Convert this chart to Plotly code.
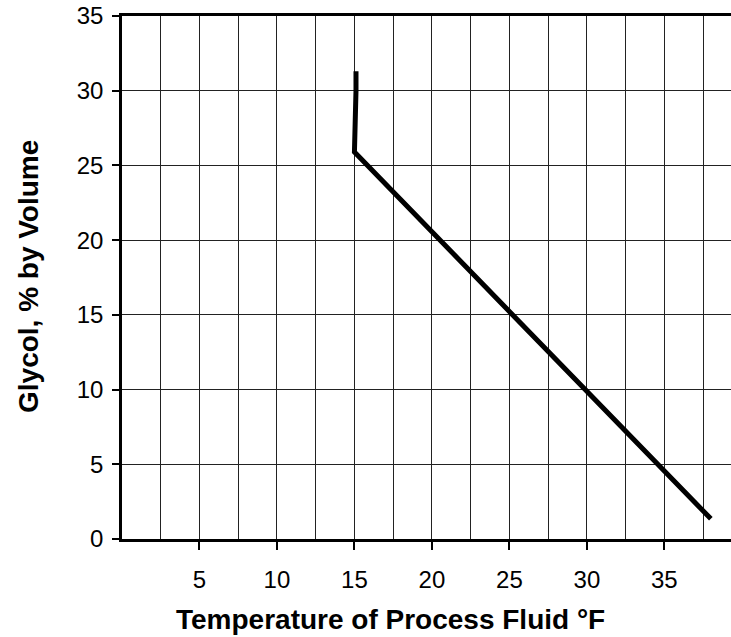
import plotly.graph_objects as go

# Data
temperature_f = [15.1, 15.1, 15.0, 38.0]
glycol_pct = [31.3, 30.0, 25.9, 1.35]
x_tick_vals = [5, 10, 15, 20, 25, 30, 35]
x_tick_text = ["5", "10", "15", "20", "25", "30", "35"]
y_tick_vals = [0, 5, 10, 15, 20, 25, 30, 35]
y_tick_text = ["0", "5", "10", "15", "20", "25", "30", "35"]

FONT = "Liberation Sans, Arial, sans-serif"

W, H = 731, 637
ml, mr, mt, mb = 122, 0, 16, 98
pw, ph = W - ml - mr, H - mt - mb


def px_to_paper(px, py):
    return (px - ml) / pw, 1 - (py - mt) / ph


fig = go.Figure()
fig.add_trace(go.Scatter(
    x=temperature_f, y=glycol_pct, mode="lines",
    line=dict(color="black", width=5),
    showlegend=False, hoverinfo="skip",
))

xt, yt = px_to_paper(390, 619)
xy, yy = px_to_paper(28, 277)

fig.update_layout(
    width=W, height=H,
    margin=dict(l=ml, r=mr, t=mt, b=mb),
    paper_bgcolor="white", plot_bgcolor="white",
    font=dict(family=FONT, color="black", size=24),
    xaxis=dict(
        range=[0, 39.3], tickvals=x_tick_vals, ticktext=x_tick_text,
        showgrid=True, gridcolor="#222", gridwidth=1,
        minor=dict(dtick=2.5, tick0=0, showgrid=True, gridcolor="#222", gridwidth=1),
        showline=True, linecolor="black", linewidth=2.5, mirror=True,
        ticks="outside", ticklen=8, tickwidth=2, tickcolor="black",
        ticklabelstandoff=9, zeroline=False,
        tickfont=dict(family=FONT, size=24),
    ),
    yaxis=dict(
        range=[0, 35], tickvals=y_tick_vals, ticktext=y_tick_text,
        showgrid=True, gridcolor="#222", gridwidth=1,
        showline=True, linecolor="black", linewidth=2.5,
        ticks="outside", ticklen=7, tickwidth=2, tickcolor="black",
        ticklabelstandoff=4, zeroline=False,
        tickfont=dict(family=FONT, size=24),
    ),
    annotations=[
        dict(text="<b>Temperature of Process Fluid °F</b>", x=xt, y=yt,
             xref="paper", yref="paper", showarrow=False,
             xanchor="center", yanchor="middle",
             font=dict(family=FONT, size=28)),
        dict(text="<b>Glycol, % by Volume</b>", x=xy, y=yy,
             xref="paper", yref="paper", showarrow=False, textangle=-90,
             xanchor="center", yanchor="middle",
             font=dict(family=FONT, size=28)),
    ],
)

fig.write_html(
    "out.html",
    config={"displayModeBar": False},
    post_script="document.body.style.margin='0';document.body.style.overflow='hidden';",
)
